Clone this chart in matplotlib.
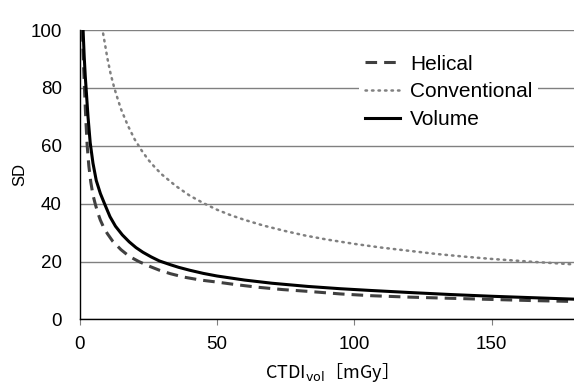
import matplotlib
matplotlib.use('Agg')
import matplotlib.pyplot as plt
from matplotlib import rcParams

rcParams['font.family'] = 'sans-serif'
rcParams['font.sans-serif'] = ['Liberation Sans', 'DejaVu Sans']

# values
helical_x = [0.9, 1.2, 1.7, 2.2, 2.7, 3.3, 4.0, 4.8, 5.6, 6.5, 7.5, 8.7, 10, 12, 15, 18, 21.5,
             25, 29, 33, 38, 44, 50, 57, 65, 74, 83, 95, 106, 120, 135, 150, 165, 180]
helical_sd = [100, 92, 80, 69, 60, 53, 47.5, 43, 40, 37, 34.3, 31.8, 29.7, 27.0, 24.1, 21.8, 20.0,
              18.5, 17.0, 15.8, 14.6, 13.6, 12.9, 12.0, 11.1, 10.3, 9.7, 8.8, 8.2, 7.7, 7.3, 6.9, 6.5, 6.2]

conv_x = [8.5, 9.2, 10, 11.2, 12.5, 13.7, 15, 17.5, 20, 22.5, 25, 27.5, 30, 35, 40, 45, 50, 55,
          60, 67, 75, 82, 90, 100, 110, 120, 130, 140, 150, 165, 180]
conv_sd = [98.8, 95, 90.5, 85, 80.2, 76.5, 72.7, 67, 62.2, 58.4, 55.1, 52.4, 50.0, 46.1, 42.8, 40.2,
           37.9, 36.0, 34.4, 32.4, 30.5, 29.0, 27.6, 26.1, 24.8, 23.7, 22.6, 21.7, 20.9, 19.9, 19.0]

vol_x = [1.2, 1.6, 2.0, 2.5, 3.0, 3.8, 4.8, 6, 7.5, 9, 11, 13, 15.5, 18, 20.5, 23, 26, 29, 33, 36,
         40, 45, 50, 60, 70, 83, 95, 106, 120, 135, 150, 165, 180]
vol_sd = [100, 91, 84, 77, 70, 61, 54, 48, 43.5, 40, 35.5, 32.2, 29.2, 26.8, 24.8, 23.2, 21.6, 20.2,
          18.9, 18.0, 17.0, 15.9, 15.0, 13.6, 12.5, 11.4, 10.6, 10.0, 9.3, 8.6, 8.0, 7.5, 7.0]

fig = plt.figure(figsize=(5.74, 3.90), dpi=100)
ax = fig.add_axes([0.139, 0.181, 0.861, 0.742])

ax.plot(helical_x, helical_sd, color='#404040', lw=2.2, ls=(0, (3.8, 2.3)), label='Helical', zorder=3)
ax.plot(conv_x, conv_sd, color='#808080', lw=1.8, ls=(0, (0.6, 2.0)), dash_capstyle='round',
        label='Conventional', zorder=3)
ax.plot(vol_x, vol_sd, color='black', lw=2.2, label='Volume', zorder=3)

ax.set_xlim(0, 180)
ax.set_ylim(0, 100)
ax.set_xticks([0, 50, 100, 150])
ax.set_yticks([0, 20, 40, 60, 80, 100])
ax.yaxis.grid(True, color='#808080', lw=1.0, zorder=0)
ax.set_axisbelow(True)

for s in ['top', 'right']:
    ax.spines[s].set_visible(False)
ax.spines['left'].set_color('black')
ax.spines['bottom'].set_color('black')
ax.spines['left'].set_linewidth(1.0)
ax.spines['bottom'].set_linewidth(1.0)

ax.tick_params(axis='y', length=0, pad=13, labelsize=13.5)
ax.tick_params(axis='x', length=4, color='#808080', pad=8, labelsize=13.5)

ax.set_ylabel('SD', fontsize=12, labelpad=2)
ax.set_xlabel(r'CTDI$_{\mathrm{vol}}$［mGy］', fontsize=13, labelpad=6,
              family=['Noto Sans CJK JP', 'DejaVu Sans'])

leg = ax.legend(loc='upper right', bbox_to_anchor=(0.949, 0.973), frameon=True, fontsize=15,
                handlelength=1.68, handletextpad=0.48, labelspacing=0.42, borderpad=0.3)
leg.get_frame().set_facecolor('white')
leg.get_frame().set_edgecolor('none')
leg.get_frame().set_alpha(1)

fig.savefig('out.png', dpi=100)
